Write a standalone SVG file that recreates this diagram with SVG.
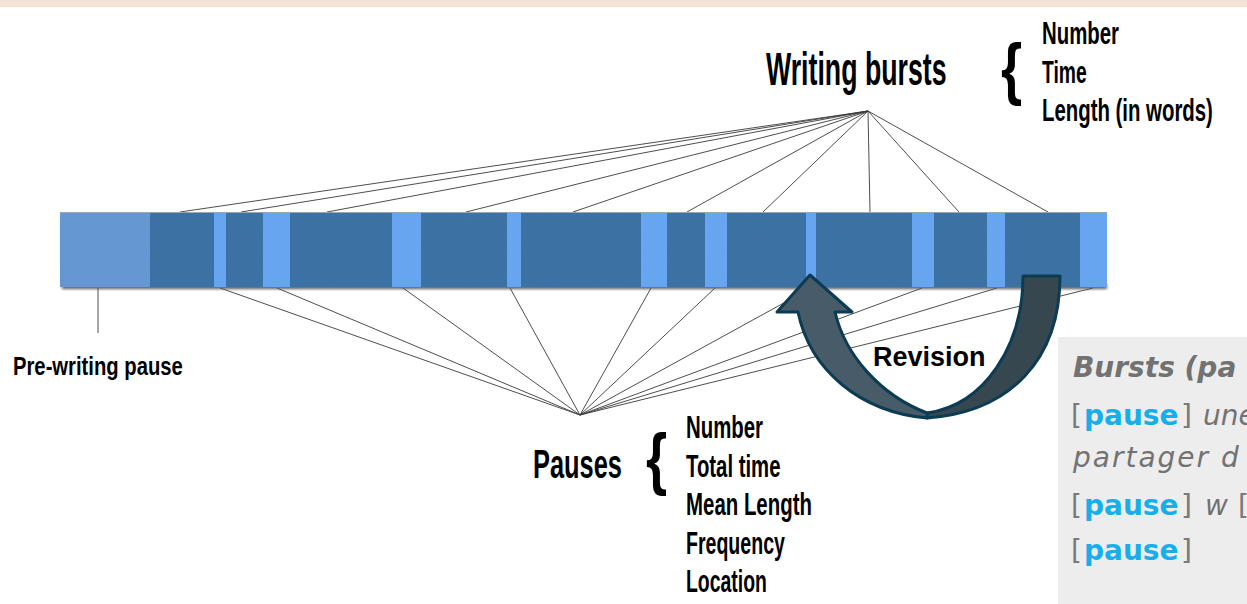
<svg xmlns="http://www.w3.org/2000/svg" width="1247" height="604" viewBox="0 0 1247 604">
<defs>
<style>
.cond{font-family:"Liberation Sans",Arial,sans-serif;font-weight:bold;fill:#000;}
.lnk{stroke:#3a3a3a;stroke-width:0.9;fill:none;}
.dark{fill:#3e74a6;}
.box{font-family:"DejaVu Sans","Open Sans",sans-serif;font-size:28px;fill:#727272;}
.bi{font-weight:bold;font-style:italic;}
.it{font-style:italic;}
.kw{font-weight:bold;fill:#17aeea;}
.brk{fill:#7a7a7a;font-weight:normal;}
</style>
<filter id="sh" x="-5%" y="-50%" width="110%" height="200%"><feGaussianBlur stdDeviation="1.5"/></filter>
<filter id="tex" x="0" y="0" width="100%" height="100%" color-interpolation-filters="sRGB">
<feTurbulence type="fractalNoise" baseFrequency="0.9" numOctaves="2" seed="3" result="n"/>
<feColorMatrix in="n" type="matrix" values="0 0 0 0 0.2  0 0 0 0 0.4  0 0 0 0 0.6  0 0 0 0.3 0" result="c"/>
<feComposite in="c" in2="SourceGraphic" operator="in" result="ci"/>
<feMerge><feMergeNode in="SourceGraphic"/><feMergeNode in="ci"/></feMerge>
</filter>
</defs>
<rect x="0" y="0" width="1247" height="7" fill="#f4e4d7"/>

<g id="connectors">
<g id="burst-lines">
<line class="lnk" x1="868" y1="111" x2="180" y2="212"/>
<line class="lnk" x1="868" y1="111" x2="241" y2="212"/>
<line class="lnk" x1="868" y1="111" x2="327" y2="212"/>
<line class="lnk" x1="868" y1="111" x2="466" y2="212"/>
<line class="lnk" x1="868" y1="111" x2="573" y2="212"/>
<line class="lnk" x1="868" y1="111" x2="687" y2="212"/>
<line class="lnk" x1="868" y1="111" x2="763" y2="212"/>
<line class="lnk" x1="868" y1="111" x2="870" y2="212"/>
<line class="lnk" x1="868" y1="111" x2="959" y2="212"/>
<line class="lnk" x1="868" y1="111" x2="1048" y2="212"/>
</g>
<g id="pause-lines">
<line class="lnk" x1="580" y1="415" x2="220" y2="288"/>
<line class="lnk" x1="580" y1="415" x2="277" y2="288"/>
<line class="lnk" x1="580" y1="415" x2="403" y2="288"/>
<line class="lnk" x1="580" y1="415" x2="510" y2="288"/>
<line class="lnk" x1="580" y1="415" x2="651" y2="288"/>
<line class="lnk" x1="580" y1="415" x2="715" y2="288"/>
<line class="lnk" x1="580" y1="415" x2="811" y2="288"/>
<line class="lnk" x1="580" y1="415" x2="922" y2="288"/>
<line class="lnk" x1="580" y1="415" x2="997" y2="288"/>
<line class="lnk" x1="580" y1="415" x2="1093" y2="288"/>
</g>
<line class="lnk" x1="98" y1="288" x2="98" y2="333" stroke="#888"/>
</g>

<g id="timeline-bar">
<rect x="62" y="285" width="1045" height="4" fill="#555" filter="url(#sh)"/>
<rect x="60" y="212" width="1047" height="75" fill="#68a5f0"/>
<rect x="60" y="212" width="90" height="75" fill="#6597d3"/>
<g filter="url(#tex)">
<rect class="dark" x="150" y="212" width="64" height="75"/>
<rect class="dark" x="226" y="212" width="37" height="75"/>
<rect class="dark" x="290" y="212" width="102" height="75"/>
<rect class="dark" x="421" y="212" width="86" height="75"/>
<rect class="dark" x="521" y="212" width="120" height="75"/>
<rect class="dark" x="667" y="212" width="38" height="75"/>
<rect class="dark" x="727" y="212" width="79" height="75"/>
<rect class="dark" x="816" y="212" width="96" height="75"/>
<rect class="dark" x="934" y="212" width="53" height="75"/>
<rect class="dark" x="1005" y="212" width="75" height="75"/>
</g>
<line x1="60" y1="212.5" x2="1107" y2="212.5" stroke="#9aa" stroke-width="1"/>
</g>

<g id="writing-bursts">
<text class="cond" font-size="46" transform="translate(766 85) scale(0.5805 1)">Writing bursts</text>
<text class="cond" x="1001" y="92" font-size="68" transform="translate(1001 0) scale(0.8 1) translate(-1001 0)">{</text>
<text class="cond" font-size="31" transform="translate(1042 44) scale(0.6575 1)">Number</text>
<text class="cond" font-size="31" transform="translate(1042 82.5) scale(0.622 1)">Time</text>
<text class="cond" font-size="31" transform="translate(1042 121) scale(0.6575 1)">Length (in words)</text>
</g>

<g id="pauses">
<text class="cond" font-size="40" transform="translate(533 478) scale(0.635 1)">Pauses</text>
<text class="cond" x="646" y="482" font-size="68" transform="translate(646 0) scale(0.8 1) translate(-646 0)">{</text>
<text class="cond" font-size="31" transform="translate(686 438) scale(0.6575 1)">Number</text>
<text class="cond" font-size="31" transform="translate(686 476.5) scale(0.656 1)">Total time</text>
<text class="cond" font-size="31" transform="translate(686 515) scale(0.659 1)">Mean Length</text>
<text class="cond" font-size="31" transform="translate(686 553.5) scale(0.631 1)">Frequency</text>
<text class="cond" font-size="31" transform="translate(686 592) scale(0.627 1)">Location</text>
</g>

<g id="pre-writing">
<text class="cond" font-size="25" transform="translate(13 375) scale(0.81 1)">Pre-writing pause</text>
</g>

<g id="revision">
<path d="M1023,276 L1060,276 C1060,360 1010,412 927,418 L927,413 C985,405 1023,345 1023,276 Z" fill="#36474f" stroke="#0c3b54" stroke-width="3" stroke-linejoin="round"/>
<path d="M810,275 L852,312 L835,312 C845,355 880,395 927,413 L927,418 C860,412 810,370 798,312 L777,312 Z" fill="#475c68" stroke="#0c3b54" stroke-width="3" stroke-linejoin="round"/>
<text x="873" y="366" font-family="Liberation Sans, Arial, sans-serif" font-weight="bold" font-size="27" fill="#000">Revision</text>
</g>

<g id="example-box">
<rect x="1058" y="337" width="200" height="280" fill="#ededed"/>
<text class="box bi" x="1073" y="377">Bursts (pa</text>
<text class="box" y="425"><tspan class="brk" x="1071">[</tspan><tspan class="kw" x="1084">pause</tspan><tspan class="brk" x="1181">]</tspan><tspan class="it" x="1203">une</tspan></text>
<text class="box it" x="1073" y="467" letter-spacing="2">partager d</text>
<text class="box" y="515"><tspan class="brk" x="1071">[</tspan><tspan class="kw" x="1084">pause</tspan><tspan class="brk" x="1181">]</tspan><tspan class="it" x="1205">w</tspan><tspan class="brk" x="1238">[</tspan></text>
<text class="box" y="560"><tspan class="brk" x="1071">[</tspan><tspan class="kw" x="1084">pause</tspan><tspan class="brk" x="1181">]</tspan></text>
</g>
</svg>
